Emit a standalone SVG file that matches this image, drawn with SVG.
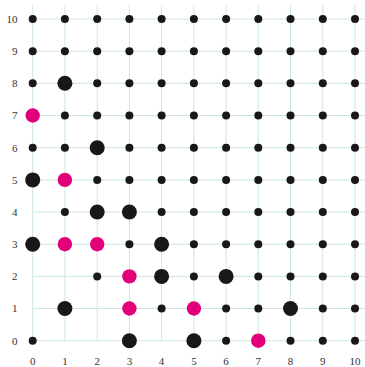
<svg xmlns="http://www.w3.org/2000/svg" width="365" height="367" viewBox="0 0 365 367">
<style>
.g{stroke:#cde6e0;stroke-width:1;fill:none}
.s{fill:#1a171b}
.b{fill:#1a171b}
.p{fill:#e2007a}
text{font-family:"Liberation Serif",serif;font-size:11px;fill:#333}
.xl{text-anchor:middle}
.yl{text-anchor:end}
</style>
<rect width="365" height="367" fill="#fff"/>
<g id="grid" class="g">
<path d="M32.7 5V340.7M64.9 5V340.7M97.2 5V340.7M129.4 5V340.7M161.6 5V340.7M193.9 5V340.7M226.1 5V340.7M258.3 5V340.7M290.5 5V340.7M322.8 5V340.7M355 5V340.7"/>
<path d="M32.7 340.7H365M32.7 308.5H365M32.7 276.4H365M32.7 244.2H365M32.7 212H365M32.7 179.9H365M32.7 147.7H365M32.7 115.5H365M32.7 83.3H365M32.7 51.2H365M32.7 19H365"/>
</g>
<g id="xlabels">
<text class="xl" x="32.7" y="365">0</text><text class="xl" x="64.9" y="365">1</text><text class="xl" x="97.2" y="365">2</text><text class="xl" x="129.4" y="365">3</text><text class="xl" x="161.6" y="365">4</text><text class="xl" x="193.9" y="365">5</text><text class="xl" x="226.1" y="365">6</text><text class="xl" x="258.3" y="365">7</text><text class="xl" x="290.5" y="365">8</text><text class="xl" x="322.8" y="365">9</text><text class="xl" x="355" y="365">10</text>
</g>
<g id="ylabels">
<text class="yl" x="17.5" y="344.5">0</text><text class="yl" x="17.5" y="312.3">1</text><text class="yl" x="17.5" y="280.2">2</text><text class="yl" x="17.5" y="248">3</text><text class="yl" x="17.5" y="215.8">4</text><text class="yl" x="17.5" y="183.7">5</text><text class="yl" x="17.5" y="151.5">6</text><text class="yl" x="17.5" y="119.3">7</text><text class="yl" x="17.5" y="87.1">8</text><text class="yl" x="17.5" y="55">9</text><text class="yl" x="17.5" y="22.8">10</text>
</g>
<g id="row10"><circle class="s" cx="32.7" cy="19" r="4"/><circle class="s" cx="64.9" cy="19" r="4"/><circle class="s" cx="97.2" cy="19" r="4"/><circle class="s" cx="129.4" cy="19" r="4"/><circle class="s" cx="161.6" cy="19" r="4"/><circle class="s" cx="193.9" cy="19" r="4"/><circle class="s" cx="226.1" cy="19" r="4"/><circle class="s" cx="258.3" cy="19" r="4"/><circle class="s" cx="290.5" cy="19" r="4"/><circle class="s" cx="322.8" cy="19" r="4"/><circle class="s" cx="355" cy="19" r="4"/></g>
<g id="row9"><circle class="s" cx="32.7" cy="51.2" r="4"/><circle class="s" cx="64.9" cy="51.2" r="4"/><circle class="s" cx="97.2" cy="51.2" r="4"/><circle class="s" cx="129.4" cy="51.2" r="4"/><circle class="s" cx="161.6" cy="51.2" r="4"/><circle class="s" cx="193.9" cy="51.2" r="4"/><circle class="s" cx="226.1" cy="51.2" r="4"/><circle class="s" cx="258.3" cy="51.2" r="4"/><circle class="s" cx="290.5" cy="51.2" r="4"/><circle class="s" cx="322.8" cy="51.2" r="4"/><circle class="s" cx="355" cy="51.2" r="4"/></g>
<g id="row8"><circle class="s" cx="32.7" cy="83.3" r="4"/><circle class="b" cx="64.9" cy="83.3" r="7.5"/><circle class="s" cx="97.2" cy="83.3" r="4"/><circle class="s" cx="129.4" cy="83.3" r="4"/><circle class="s" cx="161.6" cy="83.3" r="4"/><circle class="s" cx="193.9" cy="83.3" r="4"/><circle class="s" cx="226.1" cy="83.3" r="4"/><circle class="s" cx="258.3" cy="83.3" r="4"/><circle class="s" cx="290.5" cy="83.3" r="4"/><circle class="s" cx="322.8" cy="83.3" r="4"/><circle class="s" cx="355" cy="83.3" r="4"/></g>
<g id="row7"><circle class="p" cx="32.7" cy="115.5" r="7.2"/><circle class="s" cx="64.9" cy="115.5" r="4"/><circle class="s" cx="97.2" cy="115.5" r="4"/><circle class="s" cx="129.4" cy="115.5" r="4"/><circle class="s" cx="161.6" cy="115.5" r="4"/><circle class="s" cx="193.9" cy="115.5" r="4"/><circle class="s" cx="226.1" cy="115.5" r="4"/><circle class="s" cx="258.3" cy="115.5" r="4"/><circle class="s" cx="290.5" cy="115.5" r="4"/><circle class="s" cx="322.8" cy="115.5" r="4"/><circle class="s" cx="355" cy="115.5" r="4"/></g>
<g id="row6"><circle class="s" cx="32.7" cy="147.7" r="4"/><circle class="s" cx="64.9" cy="147.7" r="4"/><circle class="b" cx="97.2" cy="147.7" r="7.5"/><circle class="s" cx="129.4" cy="147.7" r="4"/><circle class="s" cx="161.6" cy="147.7" r="4"/><circle class="s" cx="193.9" cy="147.7" r="4"/><circle class="s" cx="226.1" cy="147.7" r="4"/><circle class="s" cx="258.3" cy="147.7" r="4"/><circle class="s" cx="290.5" cy="147.7" r="4"/><circle class="s" cx="322.8" cy="147.7" r="4"/><circle class="s" cx="355" cy="147.7" r="4"/></g>
<g id="row5"><circle class="b" cx="32.7" cy="179.9" r="7.5"/><circle class="p" cx="64.9" cy="179.9" r="7.2"/><circle class="s" cx="97.2" cy="179.9" r="4"/><circle class="s" cx="129.4" cy="179.9" r="4"/><circle class="s" cx="161.6" cy="179.9" r="4"/><circle class="s" cx="193.9" cy="179.9" r="4"/><circle class="s" cx="226.1" cy="179.9" r="4"/><circle class="s" cx="258.3" cy="179.9" r="4"/><circle class="s" cx="290.5" cy="179.9" r="4"/><circle class="s" cx="322.8" cy="179.9" r="4"/><circle class="s" cx="355" cy="179.9" r="4"/></g>
<g id="row4"><circle class="s" cx="64.9" cy="212" r="4"/><circle class="b" cx="97.2" cy="212" r="7.5"/><circle class="b" cx="129.4" cy="212" r="7.5"/><circle class="s" cx="161.6" cy="212" r="4"/><circle class="s" cx="193.9" cy="212" r="4"/><circle class="s" cx="226.1" cy="212" r="4"/><circle class="s" cx="258.3" cy="212" r="4"/><circle class="s" cx="290.5" cy="212" r="4"/><circle class="s" cx="322.8" cy="212" r="4"/><circle class="s" cx="355" cy="212" r="4"/></g>
<g id="row3"><circle class="b" cx="32.7" cy="244.2" r="7.5"/><circle class="p" cx="64.9" cy="244.2" r="7.2"/><circle class="p" cx="97.2" cy="244.2" r="7.2"/><circle class="s" cx="129.4" cy="244.2" r="4"/><circle class="b" cx="161.6" cy="244.2" r="7.5"/><circle class="s" cx="193.9" cy="244.2" r="4"/><circle class="s" cx="226.1" cy="244.2" r="4"/><circle class="s" cx="258.3" cy="244.2" r="4"/><circle class="s" cx="290.5" cy="244.2" r="4"/><circle class="s" cx="322.8" cy="244.2" r="4"/><circle class="s" cx="355" cy="244.2" r="4"/></g>
<g id="row2"><circle class="s" cx="97.2" cy="276.4" r="4"/><circle class="p" cx="129.4" cy="276.4" r="7.2"/><circle class="b" cx="161.6" cy="276.4" r="7.5"/><circle class="s" cx="193.9" cy="276.4" r="4"/><circle class="b" cx="226.1" cy="276.4" r="7.5"/><circle class="s" cx="258.3" cy="276.4" r="4"/><circle class="s" cx="290.5" cy="276.4" r="4"/><circle class="s" cx="322.8" cy="276.4" r="4"/><circle class="s" cx="355" cy="276.4" r="4"/></g>
<g id="row1"><circle class="b" cx="64.9" cy="308.5" r="7.5"/><circle class="p" cx="129.4" cy="308.5" r="7.2"/><circle class="s" cx="161.6" cy="308.5" r="4"/><circle class="p" cx="193.9" cy="308.5" r="7.2"/><circle class="s" cx="226.1" cy="308.5" r="4"/><circle class="s" cx="258.3" cy="308.5" r="4"/><circle class="b" cx="290.5" cy="308.5" r="7.5"/><circle class="s" cx="322.8" cy="308.5" r="4"/><circle class="s" cx="355" cy="308.5" r="4"/></g>
<g id="row0"><circle class="s" cx="32.7" cy="340.7" r="4"/><circle class="b" cx="129.4" cy="340.7" r="7.5"/><circle class="b" cx="193.9" cy="340.7" r="7.5"/><circle class="s" cx="226.1" cy="340.7" r="4"/><circle class="p" cx="258.3" cy="340.7" r="7.2"/><circle class="s" cx="290.5" cy="340.7" r="4"/><circle class="s" cx="322.8" cy="340.7" r="4"/><circle class="s" cx="355" cy="340.7" r="4"/></g>
</svg>
